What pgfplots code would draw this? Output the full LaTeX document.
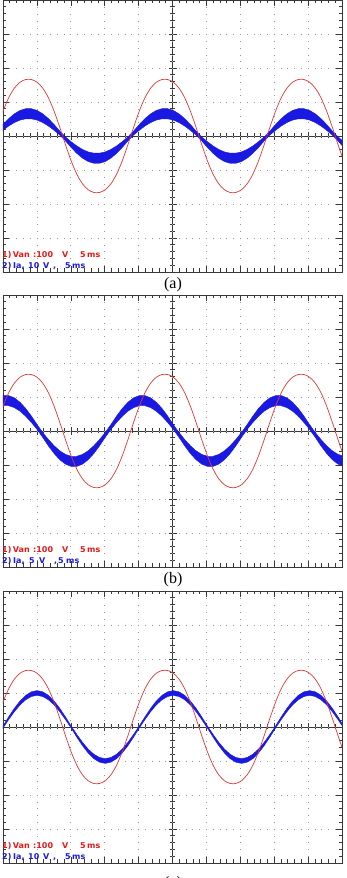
\documentclass[border=0pt]{standalone}
\usepackage{pgfplots}
\pgfplotsset{compat=1.18}
\usepackage{pgfplotstable}
\usepackage{fontspec}
\setmainfont{Liberation Serif}
\newfontfamily\scopefont{DejaVu Sans}
\definecolor{tracered}{RGB}{225,55,55}
\definecolor{traceblue}{RGB}{25,25,225}
\definecolor{txtred}{RGB}{230,25,25}
\definecolor{txtblue}{RGB}{25,25,220}
\definecolor{framec}{RGB}{55,55,55}
\definecolor{griddot}{RGB}{150,150,150}

% x in divisions (5 ms/div); r = Van trace (div), same in all three panels
\pgfplotstableread{
x r
-0.335 -0.254
-0.1675 0.254
0 0.730
0.1675 1.124
0.335 1.407
0.5025 1.581
0.67 1.661
0.8375 1.661
1.005 1.581
1.1725 1.407
1.34 1.124
1.5075 0.730
1.675 0.254
1.8425 -0.254
2.01 -0.730
2.1775 -1.124
2.345 -1.407
2.5125 -1.581
2.68 -1.661
2.8475 -1.661
3.015 -1.581
3.1825 -1.407
3.35 -1.124
3.5175 -0.730
3.685 -0.254
3.8525 0.254
4.02 0.730
4.1875 1.124
4.355 1.407
4.5225 1.581
4.69 1.661
4.8575 1.661
5.025 1.581
5.1925 1.407
5.36 1.124
5.5275 0.730
5.695 0.254
5.8625 -0.254
6.03 -0.730
6.1975 -1.124
6.365 -1.407
6.5325 -1.581
6.7 -1.661
6.8675 -1.661
7.035 -1.581
7.2025 -1.407
7.37 -1.124
7.5375 -0.730
7.705 -0.254
7.8725 0.254
8.04 0.730
8.2075 1.124
8.375 1.407
8.5425 1.581
8.71 1.661
8.8775 1.661
9.045 1.581
9.2125 1.407
9.38 1.124
9.5475 0.730
9.715 0.254
9.8825 -0.254
10.05 -0.730
10.2175 -1.124
}\vandata

% outline of the noisy Ia band: upper edge left->right, then lower edge right->left
% ya = panel (a), yb = panel (b), yc = panel (c)
\pgfplotstableread{
x ya yb yc
-0.1675 0.145 0.975 -0.218
0 0.338 1.041 0.030
0.1675 0.511 1.041 0.299
0.335 0.652 0.975 0.550
0.5025 0.752 0.845 0.765
0.67 0.803 0.663 0.931
0.8375 0.803 0.439 1.035
1.005 0.752 0.189 1.070
1.1725 0.652 -0.046 1.035
1.34 0.511 -0.250 0.931
1.5075 0.338 -0.433 0.765
1.675 0.145 -0.583 0.550
1.8425 -0.027 -0.688 0.299
2.01 -0.167 -0.743 0.030
2.1775 -0.293 -0.743 -0.218
2.345 -0.395 -0.688 -0.450
2.5125 -0.468 -0.583 -0.649
2.68 -0.505 -0.433 -0.801
2.8475 -0.505 -0.250 -0.897
3.015 -0.468 -0.046 -0.930
3.1825 -0.395 0.189 -0.897
3.35 -0.293 0.439 -0.801
3.5175 -0.167 0.663 -0.649
3.685 -0.027 0.845 -0.450
3.8525 0.145 0.975 -0.218
4.02 0.338 1.041 0.030
4.1875 0.511 1.041 0.299
4.355 0.652 0.975 0.550
4.5225 0.752 0.845 0.765
4.69 0.803 0.663 0.931
4.8575 0.803 0.439 1.035
5.025 0.752 0.189 1.070
5.1925 0.652 -0.046 1.035
5.36 0.511 -0.250 0.931
5.5275 0.338 -0.433 0.765
5.695 0.145 -0.583 0.550
5.8625 -0.027 -0.688 0.299
6.03 -0.167 -0.743 0.030
6.1975 -0.293 -0.743 -0.218
6.365 -0.395 -0.688 -0.450
6.5325 -0.468 -0.583 -0.649
6.7 -0.505 -0.433 -0.801
6.8675 -0.505 -0.250 -0.897
7.035 -0.468 -0.046 -0.930
7.2025 -0.395 0.189 -0.897
7.37 -0.293 0.439 -0.801
7.5375 -0.167 0.663 -0.649
7.705 -0.027 0.845 -0.450
7.8725 0.145 0.975 -0.218
8.04 0.338 1.041 0.030
8.2075 0.511 1.041 0.299
8.375 0.652 0.975 0.550
8.5425 0.752 0.845 0.765
8.71 0.803 0.663 0.931
8.8775 0.803 0.439 1.035
9.045 0.752 0.189 1.070
9.2125 0.652 -0.046 1.035
9.38 0.511 -0.250 0.931
9.5475 0.338 -0.433 0.765
9.715 0.145 -0.583 0.550
9.8825 -0.027 -0.688 0.299
10.05 -0.167 -0.743 0.030
10.05 -0.338 -1.041 -0.030
9.8825 -0.145 -0.975 0.218
9.715 0.027 -0.845 0.450
9.5475 0.167 -0.663 0.649
9.38 0.293 -0.439 0.801
9.2125 0.395 -0.189 0.897
9.045 0.468 0.046 0.930
8.8775 0.505 0.250 0.897
8.71 0.505 0.433 0.801
8.5425 0.468 0.583 0.649
8.375 0.395 0.688 0.450
8.2075 0.293 0.743 0.218
8.04 0.167 0.743 -0.030
7.8725 0.027 0.688 -0.299
7.705 -0.145 0.583 -0.550
7.5375 -0.338 0.433 -0.765
7.37 -0.511 0.250 -0.931
7.2025 -0.652 0.046 -1.035
7.035 -0.752 -0.189 -1.070
6.8675 -0.803 -0.439 -1.035
6.7 -0.803 -0.663 -0.931
6.5325 -0.752 -0.845 -0.765
6.365 -0.652 -0.975 -0.550
6.1975 -0.511 -1.041 -0.299
6.03 -0.338 -1.041 -0.030
5.8625 -0.145 -0.975 0.218
5.695 0.027 -0.845 0.450
5.5275 0.167 -0.663 0.649
5.36 0.293 -0.439 0.801
5.1925 0.395 -0.189 0.897
5.025 0.468 0.046 0.930
4.8575 0.505 0.250 0.897
4.69 0.505 0.433 0.801
4.5225 0.468 0.583 0.649
4.355 0.395 0.688 0.450
4.1875 0.293 0.743 0.218
4.02 0.167 0.743 -0.030
3.8525 0.027 0.688 -0.299
3.685 -0.145 0.583 -0.550
3.5175 -0.338 0.433 -0.765
3.35 -0.511 0.250 -0.931
3.1825 -0.652 0.046 -1.035
3.015 -0.752 -0.189 -1.070
2.8475 -0.803 -0.439 -1.035
2.68 -0.803 -0.663 -0.931
2.5125 -0.752 -0.845 -0.765
2.345 -0.652 -0.975 -0.550
2.1775 -0.511 -1.041 -0.299
2.01 -0.338 -1.041 -0.030
1.8425 -0.145 -0.975 0.218
1.675 0.027 -0.845 0.450
1.5075 0.167 -0.663 0.649
1.34 0.293 -0.439 0.801
1.1725 0.395 -0.189 0.897
1.005 0.468 0.046 0.930
0.8375 0.505 0.250 0.897
0.67 0.505 0.433 0.801
0.5025 0.468 0.583 0.649
0.335 0.395 0.688 0.450
0.1675 0.293 0.743 0.218
0 0.167 0.743 -0.030
-0.1675 0.027 0.688 -0.299
}\banddata

\pgfplotsset{
  scopebox/.style={scale only axis, width=339pt, height=272pt, anchor=south west,
    xmin=0, xmax=10, ymin=-4, ymax=4,
    xtick={0,...,10}, ytick={-4,...,4}, minor x tick num=4, minor y tick num=4,
    xticklabels={}, yticklabels={},
    tick align=inside, major tick length=6pt, minor tick length=3.5pt,
    grid=major,
    major grid style={griddot, line width=0.7pt, dash pattern=on 0.7pt off 6.08pt, dash phase=0.35pt},
    axis line style={framec, line width=0.9pt},
    every tick/.style={framec, line width=0.6pt}},
  scopemid/.style={scale only axis, width=339pt, height=272pt, anchor=south west,
    xmin=-5, xmax=5, ymin=-4, ymax=4,
    axis lines=middle, axis line style={-, framec, line width=0.9pt},
    xtick={-5,...,5}, ytick={-4,...,4}, minor x tick num=4, minor y tick num=4,
    xticklabels={}, yticklabels={},
    tick align=center, major tick length=8pt, minor tick length=5pt,
    every tick/.style={framec, line width=0.6pt}}
}

\newcommand{\sw}[4]{\node[anchor=base west, inner sep=0pt, text=#1, font=\scopefont\bfseries\fontsize{8}{8}\selectfont] at (#2pt,#3pt) {#4};}

\begin{document}
\begin{tikzpicture}
\path[use as bounding box] (0pt,0pt) rectangle (346pt,878pt);

% ---------- panel (a)
\begin{axis}[scopemid, at={(3pt,606pt)}]
\addplot[draw=none] coordinates {(0,0)};
\end{axis}
\begin{axis}[scopebox, at={(3pt,606pt)}]
\addplot[fill=traceblue, draw=traceblue, line width=0.4pt] table[x=x,y=ya]{\banddata};
\addplot[tracered, line width=0.7pt, smooth] table[x=x,y=r]{\vandata};
\end{axis}
\sw{txtred}{2}{620.7}{1)}
\sw{txtred}{12.7}{620.7}{Van}
\sw{txtred}{33}{620.7}{:100}
\sw{txtred}{62}{620.7}{V}
\sw{txtred}{80}{620.7}{5}
\sw{txtred}{87}{620.7}{ms}
\sw{txtblue}{2}{609}{2)}
\sw{txtblue}{13}{609}{Ia,}
\sw{txtblue}{28}{609}{10}
\sw{txtblue}{43}{609}{V}
\sw{txtblue}{53}{609}{,}
\sw{txtblue}{65}{609}{5}
\sw{txtblue}{72}{609}{ms}
\node[font=\fontsize{16}{16}\selectfont] at (173pt,593pt) {(a)};

% ---------- panel (b)
\begin{axis}[scopemid, at={(3pt,311pt)}]
\addplot[draw=none] coordinates {(0,0)};
\end{axis}
\begin{axis}[scopebox, at={(3pt,311pt)}]
\addplot[fill=traceblue, draw=traceblue, line width=0.4pt] table[x=x,y=yb]{\banddata};
\addplot[tracered, line width=0.7pt, smooth] table[x=x,y=r]{\vandata};
\end{axis}
\sw{txtred}{2}{325.7}{1)}
\sw{txtred}{12.7}{325.7}{Van}
\sw{txtred}{33}{325.7}{:100}
\sw{txtred}{62}{325.7}{V}
\sw{txtred}{80}{325.7}{5}
\sw{txtred}{87}{325.7}{ms}
\sw{txtblue}{2}{314}{2)}
\sw{txtblue}{13}{314}{Ia,}
\sw{txtblue}{29}{314}{5}
\sw{txtblue}{39}{314}{V}
\sw{txtblue}{54}{314}{,}
\sw{txtblue}{58}{314}{5}
\sw{txtblue}{66}{314}{ms}
\node[font=\fontsize{16}{16}\selectfont] at (173pt,298pt) {(b)};

% ---------- panel (c)
\begin{axis}[scopemid, at={(3pt,15pt)}]
\addplot[draw=none] coordinates {(0,0)};
\end{axis}
\begin{axis}[scopebox, at={(3pt,15pt)}]
\addplot[fill=traceblue, draw=traceblue, line width=0.4pt] table[x=x,y=yc]{\banddata};
\addplot[tracered, line width=0.7pt, smooth] table[x=x,y=r]{\vandata};
\end{axis}
\sw{txtred}{2}{29.7}{1)}
\sw{txtred}{12.7}{29.7}{Van}
\sw{txtred}{33}{29.7}{:100}
\sw{txtred}{62}{29.7}{V}
\sw{txtred}{80}{29.7}{5}
\sw{txtred}{87}{29.7}{ms}
\sw{txtblue}{2}{18}{2)}
\sw{txtblue}{13}{18}{Ia,}
\sw{txtblue}{28}{18}{10}
\sw{txtblue}{43}{18}{V}
\sw{txtblue}{53}{18}{,}
\sw{txtblue}{65}{18}{5}
\sw{txtblue}{72}{18}{ms}
\node[font=\fontsize{16}{16}\selectfont] at (173pt,-5.5pt) {(c)};
\end{tikzpicture}
\end{document}
